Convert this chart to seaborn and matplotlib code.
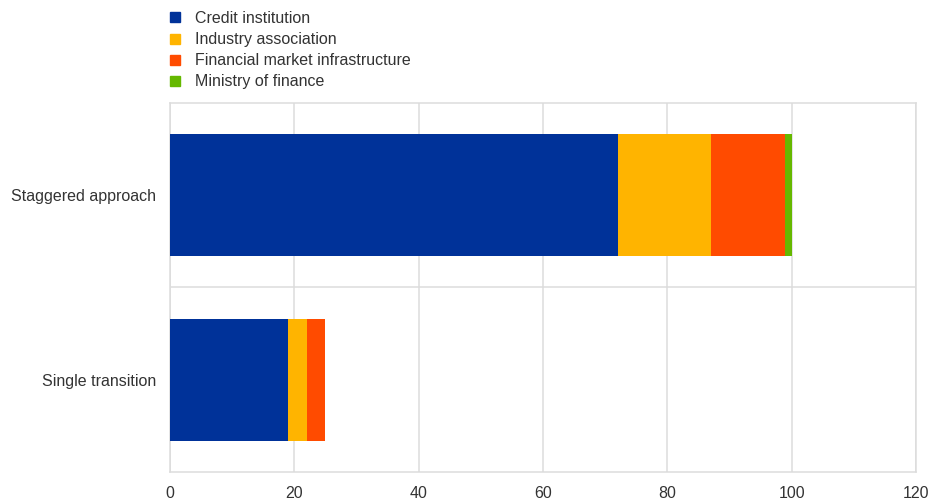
import numpy as np
import pandas as pd
import matplotlib
matplotlib.use("Agg")
import matplotlib.pyplot as plt
from matplotlib.lines import Line2D
import seaborn as sns

categories = ["Staggered approach", "Single transition"]
series_names = ["Credit institution", "Industry association",
                "Financial market infrastructure", "Ministry of finance"]
credit = [72, 19]
industry = [15, 3]
fmi = [12, 3]
ministry = [1, 0]
colors = ["#003299", "#FFB400", "#FF4B00", "#65B800"]
x_ticks = [0, 20, 40, 60, 80, 100, 120]

sns.set_theme(style="white")
plt.rcParams["font.family"] = ["Liberation Sans", "DejaVu Sans"]

values = np.array([credit, industry, fmi, ministry], dtype=float)
cum = np.cumsum(values, axis=0)

fig = plt.figure(figsize=(9.39, 5.0), dpi=100)
ax = fig.add_axes([0.181, 0.056, 0.9755 - 0.181, 0.7946 - 0.056])

# draw cumulative totals from largest to smallest so segments stack
for i in range(len(series_names) - 1, -1, -1):
    df = pd.DataFrame({"cat": categories, "val": cum[i]})
    sns.barplot(data=df, y="cat", x="val", orient="h", color=colors[i],
                saturation=1, width=0.66, ax=ax, linewidth=0, zorder=3)

ax.set_xlim(0, 120)
ax.set_ylim(1.5, -0.5)
ax.set_xticks(x_ticks)
ax.set_xticklabels([str(t) for t in x_ticks], fontsize=11.5, color="#333333")
ax.tick_params(axis="y", labelsize=11.5, labelcolor="#333333", length=0, pad=10)
ax.tick_params(axis="x", length=0, pad=10)
ax.set_xlabel("")
ax.set_ylabel("")
ax.xaxis.grid(True, color="#dcdcdc", linewidth=1.1, zorder=0)
ax.set_axisbelow(True)
ax.axhline(0.5, color="#dcdcdc", linewidth=1.1, zorder=1)
for s in ax.spines.values():
    s.set_color("#dcdcdc")
    s.set_linewidth(1.1)

handles = [Line2D([0], [0], marker="s", linestyle="", markersize=7.2,
                  markerfacecolor=c, markeredgecolor=c) for c in colors]
fig.legend(handles, series_names, loc="upper left",
           bbox_to_anchor=(0.168, 0.997), frameon=False, fontsize=11.5,
           labelcolor="#333333", handletextpad=0.75, labelspacing=0.38,
           borderaxespad=0.2, handlelength=1.0)

fig.savefig("out.png", dpi=100)
